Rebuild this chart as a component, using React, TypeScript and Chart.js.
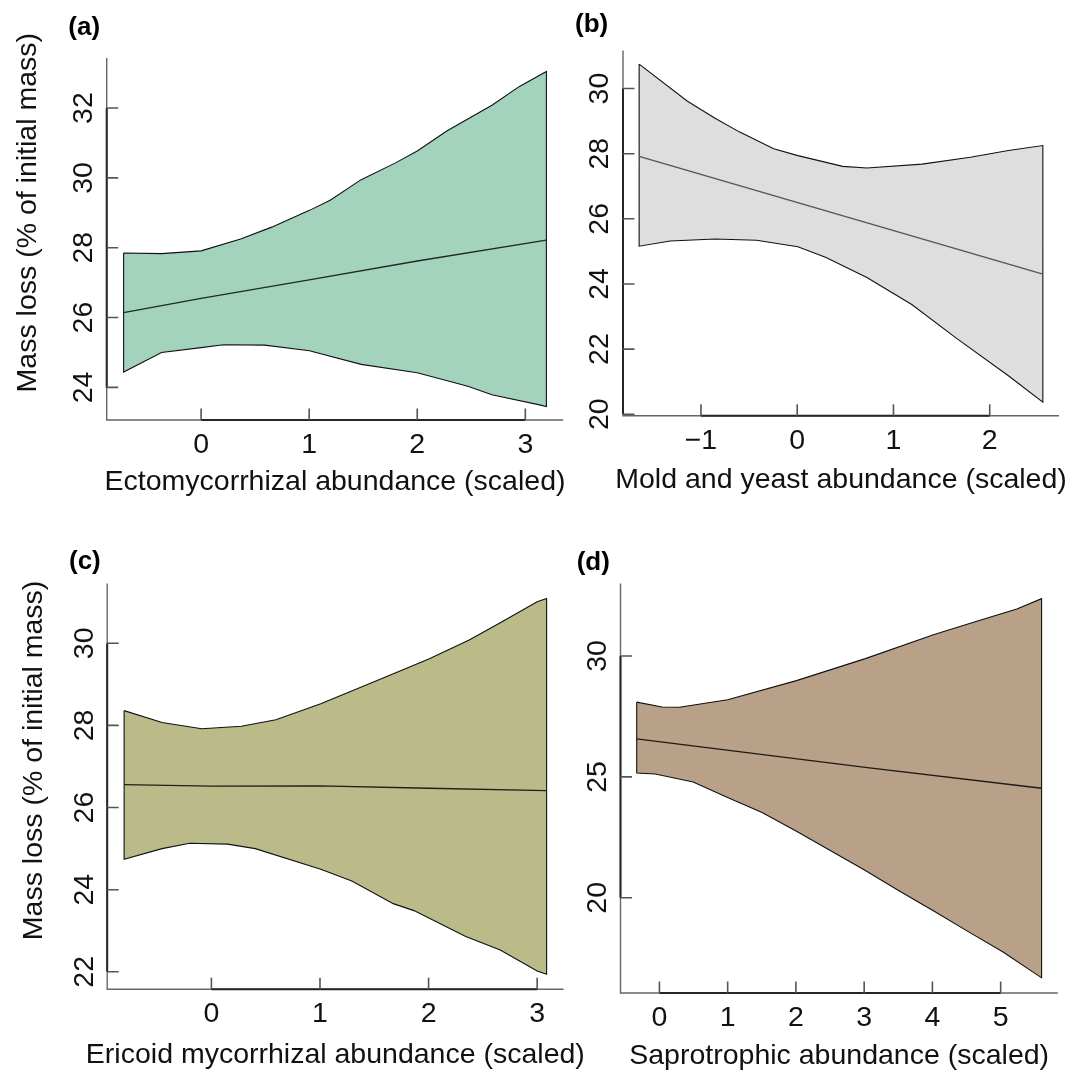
import React, { useEffect, useRef } from "react";
import { Chart, registerables } from "chart.js";

Chart.register(...registerables);

const W = 1074;
const H = 1071;
const FONT = '"Liberation Sans", Arial, Helvetica, sans-serif';

// ---------- Panel (a): Ectomycorrhizal ----------
const aUpperX = [-0.717, -0.366, 0, 0.366, 0.653, 1.003, 1.194, 1.481, 1.799, 2.0, 2.277, 2.691, 2.946, 3.195];
const aUpperY = [27.85, 27.83, 27.91, 28.25, 28.59, 29.07, 29.36, 29.95, 30.43, 30.77, 31.35, 32.08, 32.62, 33.05];
const aLowerX = [-0.717, -0.366, 0, 0.207, 0.589, 1.003, 1.481, 2.0, 2.468, 2.691, 3.131, 3.195];
const aLowerY = [24.44, 25.0, 25.14, 25.22, 25.21, 25.05, 24.66, 24.42, 24.03, 23.79, 23.5, 23.45];
const aFitX = [-0.717, 0, 1, 2, 3.195];
const aFitY = [26.14, 26.55, 27.08, 27.62, 28.22];
const aXTicks = [0, 1, 2, 3];
const aYTicks = [24, 26, 28, 30, 32];

// ---------- Panel (b): Mold and yeast ----------
const bUpperX = [-1.642, -1.14, -0.853, -0.602, -0.244, 0.007, 0.473, 0.724, 1.297, 1.799, 2.194, 2.552];
const bUpperY = [30.75, 29.61, 29.09, 28.67, 28.15, 27.94, 27.61, 27.56, 27.68, 27.89, 28.1, 28.25];
const bLowerX = [-1.642, -1.319, -0.853, -0.423, 0.007, 0.294, 0.724, 1.19, 1.656, 2.194, 2.552];
const bLowerY = [25.16, 25.32, 25.38, 25.34, 25.14, 24.82, 24.2, 23.37, 22.33, 21.18, 20.37];
const bFitX = [-1.642, 2.552];
const bFitY = [27.92, 24.3];
const bXTicks = [-1, 0, 1, 2];
const bYTicks = [20, 22, 24, 26, 28, 30];

// ---------- Panel (c): Ericoid mycorrhizal ----------
const cUpperX = [-0.804, -0.454, -0.089, 0.276, 0.594, 1.007, 1.548, 2.002, 2.374, 2.66, 3.0, 3.087];
const cUpperY = [28.36, 28.07, 27.92, 27.98, 28.14, 28.53, 29.12, 29.62, 30.08, 30.5, 31.01, 31.09];
const cLowerX = [-0.804, -0.454, -0.2, 0.149, 0.404, 1.007, 1.293, 1.675, 1.865, 2.342, 2.66, 3.0, 3.087];
const cLowerY = [24.74, 25.0, 25.13, 25.11, 25.0, 24.5, 24.21, 23.66, 23.49, 22.86, 22.53, 22.02, 21.94];
const cFitX = [-0.804, 0, 1, 2, 3.087];
const cFitY = [26.56, 26.52, 26.53, 26.47, 26.41];
const cXTicks = [0, 1, 2, 3];
const cYTicks = [22, 24, 26, 28, 30];

// ---------- Panel (d): Saprotrophic ----------
const dUpperX = [-0.333, 0.04, 0.293, 0.999, 2.008, 3.017, 4.026, 4.733, 5.237, 5.6];
const dUpperY = [28.09, 27.89, 27.88, 28.19, 28.98, 29.89, 30.89, 31.51, 31.94, 32.37];
const dLowerX = [-0.333, -0.061, 0.494, 0.999, 1.504, 2.008, 3.017, 3.522, 4.026, 4.531, 5.035, 5.6];
const dLowerY = [25.16, 25.12, 24.79, 24.15, 23.53, 22.75, 21.13, 20.27, 19.44, 18.59, 17.76, 16.69];
const dFitX = [-0.333, 3.017, 5.6];
const dFitY = [26.57, 25.39, 24.53];
const dXTicks = [0, 1, 2, 3, 4, 5];
const dYTicks = [20, 25, 30];

const Y_TITLE = "Mass loss (% of initial mass)";

type Panel = {
  label: string;
  upperX: number[];
  upperY: number[];
  lowerX: number[];
  lowerY: number[];
  fitX: number[];
  fitY: number[];
  xTicks: number[];
  yTicks: number[];
  fill: string;
  fitColor: string;
  xTitle: string;
  yTitle: string | null;
  area: { left: number; right: number; top: number; bottom: number };
  xTitleOffset: number;
  yTitlePos: { x: number; y: number };
  labelPos: { x: number; y: number };
};

const panels: Panel[] = [
  {
    label: "(a)",
    upperX: aUpperX, upperY: aUpperY, lowerX: aLowerX, lowerY: aLowerY,
    fitX: aFitX, fitY: aFitY, xTicks: aXTicks, yTicks: aYTicks,
    fill: "#a3d3bc", fitColor: "#1d2b25",
    xTitle: "Ectomycorrhizal abundance (scaled)", yTitle: Y_TITLE,
    area: { left: 106.7, right: 563.3, top: 58, bottom: 420 },
    xTitleOffset: 70,
    yTitlePos: { x: 28.4, y: 212.7 },
    labelPos: { x: 68.3, y: 28.3 },
  },
  {
    label: "(b)",
    upperX: bUpperX, upperY: bUpperY, lowerX: bLowerX, lowerY: bLowerY,
    fitX: bFitX, fitY: bFitY, xTicks: bXTicks, yTicks: bYTicks,
    fill: "#dedede", fitColor: "#555555",
    xTitle: "Mold and yeast abundance (scaled)", yTitle: null,
    area: { left: 623, right: 1059, top: 50.6, bottom: 415.7 },
    xTitleOffset: 72,
    yTitlePos: { x: 0, y: 0 },
    labelPos: { x: 575, y: 25 },
  },
  {
    label: "(c)",
    upperX: cUpperX, upperY: cUpperY, lowerX: cLowerX, lowerY: cLowerY,
    fitX: cFitX, fitY: cFitY, xTicks: cXTicks, yTicks: cYTicks,
    fill: "#babb89", fitColor: "#1f2016",
    xTitle: "Ericoid mycorrhizal abundance (scaled)", yTitle: Y_TITLE,
    area: { left: 107.2, right: 563.5, top: 583.5, bottom: 989.3 },
    xTitleOffset: 74,
    yTitlePos: { x: 33.7, y: 760.4 },
    labelPos: { x: 69, y: 562 },
  },
  {
    label: "(d)",
    upperX: dUpperX, upperY: dUpperY, lowerX: dLowerX, lowerY: dLowerY,
    fitX: dFitX, fitY: dFitY, xTicks: dXTicks, yTicks: dYTicks,
    fill: "#b9a088", fitColor: "#1f1a15",
    xTitle: "Saprotrophic abundance (scaled)", yTitle: null,
    area: { left: 620.5, right: 1057.8, top: 583.5, bottom: 993 },
    xTitleOffset: 71,
    yTitlePos: { x: 0, y: 0 },
    labelPos: { x: 576.7, y: 563.3 },
  },
];

function pts(xs: number[], ys: number[]) {
  return xs.map((x, i) => ({ x, y: ys[i] }));
}

// R-style axis range: data range extended by 4% on each side
function rRange(vals: number[]): [number, number] {
  const mn = Math.min(...vals);
  const mx = Math.max(...vals);
  const d = (mx - mn) * 0.04;
  return [mn - d, mx + d];
}

const fmt = (v: number) => (v < 0 ? "\u2212" + String(-v) : String(v));

const TICK = 11.5;

function PanelChart({ p }: { p: Panel }) {
  const ref = useRef<HTMLCanvasElement>(null);

  useEffect(() => {
    const canvas = ref.current;
    if (!canvas) return;
    const upper = pts(p.upperX, p.upperY);
    const lower = pts(p.lowerX, p.lowerY);
    const polygon = [...upper, ...lower.slice().reverse(), upper[0]];
    const fit = pts(p.fitX, p.fitY);
    const [xMin, xMax] = rRange([...p.upperX, ...p.lowerX]);
    const [yMin, yMax] = rRange([...p.upperY, ...p.lowerY]);

    const axesPlugin = {
      id: "rAxes",
      afterDraw(chart: any) {
        const ctx: CanvasRenderingContext2D = chart.ctx;
        const { left, right, top, bottom } = chart.chartArea;
        const xs = chart.scales.x;
        const ys = chart.scales.y;
        const xt = p.xTicks.map((v) => xs.getPixelForValue(v));
        const yt = p.yTicks.map((v) => ys.getPixelForValue(v));
        ctx.save();
        ctx.lineCap = "butt";
        // L-shaped box
        ctx.strokeStyle = "#666666";
        ctx.lineWidth = 1.4;
        ctx.beginPath();
        ctx.moveTo(left, top);
        ctx.lineTo(left, bottom);
        ctx.lineTo(right, bottom);
        ctx.stroke();
        // axis segments
        ctx.strokeStyle = "#262626";
        ctx.lineWidth = 2;
        ctx.beginPath();
        ctx.moveTo(xt[0], bottom);
        ctx.lineTo(xt[xt.length - 1], bottom);
        ctx.stroke();
        ctx.beginPath();
        ctx.moveTo(left, yt[0]);
        ctx.lineTo(left, yt[yt.length - 1]);
        ctx.stroke();
        // inward ticks
        ctx.strokeStyle = "#555555";
        ctx.lineWidth = 1.6;
        ctx.beginPath();
        xt.forEach((x) => {
          ctx.moveTo(x, bottom);
          ctx.lineTo(x, bottom - TICK);
        });
        yt.forEach((y) => {
          ctx.moveTo(left, y);
          ctx.lineTo(left + TICK, y);
        });
        ctx.stroke();
        // tick labels
        ctx.fillStyle = "#111111";
        ctx.font = `28.5px ${FONT}`;
        ctx.textAlign = "center";
        ctx.textBaseline = "middle";
        xt.forEach((x, i) => ctx.fillText(fmt(p.xTicks[i]), x, bottom + 25));
        yt.forEach((y, i) => {
          ctx.save();
          ctx.translate(left - 22.5, y);
          ctx.rotate(-Math.PI / 2);
          ctx.fillText(fmt(p.yTicks[i]), 0, 0);
          ctx.restore();
        });
        // x title
        ctx.font = `28.5px ${FONT}`;
        ctx.textBaseline = "alphabetic";
        ctx.fillText(p.xTitle, (left + right) / 2, bottom + p.xTitleOffset);
        // y title
        if (p.yTitle) {
          ctx.save();
          ctx.translate(p.yTitlePos.x, p.yTitlePos.y);
          ctx.rotate(-Math.PI / 2);
          ctx.textBaseline = "middle";
          ctx.fillText(p.yTitle, 0, 0);
          ctx.restore();
        }
        // panel label
        ctx.font = `bold 26px ${FONT}`;
        ctx.textAlign = "left";
        ctx.textBaseline = "middle";
        ctx.fillStyle = "#000000";
        ctx.fillText(p.label, p.labelPos.x, p.labelPos.y);
        ctx.restore();
      },
    };

    const chart = new Chart(canvas, {
      type: "line",
      data: {
        datasets: [
          {
            data: fit,
            borderColor: p.fitColor,
            borderWidth: 1.3,
            pointRadius: 0,
            fill: false,
            order: 0,
          },
          {
            data: polygon,
            borderColor: "#111111",
            borderWidth: 1.1,
            backgroundColor: p.fill,
            pointRadius: 0,
            fill: "shape",
            order: 1,
          },
        ],
      },
      options: {
        animation: false,
        responsive: false,
        events: [],
        layout: {
          padding: {
            left: p.area.left,
            top: p.area.top,
            right: W - p.area.right,
            bottom: H - p.area.bottom,
          },
        },
        plugins: {
          legend: { display: false },
          tooltip: { enabled: false },
          title: { display: false },
        },
        scales: {
          x: { type: "linear", min: xMin, max: xMax, display: false },
          y: { type: "linear", min: yMin, max: yMax, display: false },
        },
      } as any,
      plugins: [axesPlugin],
    });
    return () => chart.destroy();
  }, [p]);

  return (
    <canvas
      ref={ref}
      width={W}
      height={H}
      style={{ position: "absolute", left: 0, top: 0, width: W, height: H, pointerEvents: "none" }}
    />
  );
}

export default function App() {
  return (
    <div style={{ position: "absolute", left: 0, top: 0, width: W, height: H, background: "#ffffff", overflow: "hidden" }}>
      {panels.map((p) => (
        <PanelChart key={p.label} p={p} />
      ))}
    </div>
  );
}
